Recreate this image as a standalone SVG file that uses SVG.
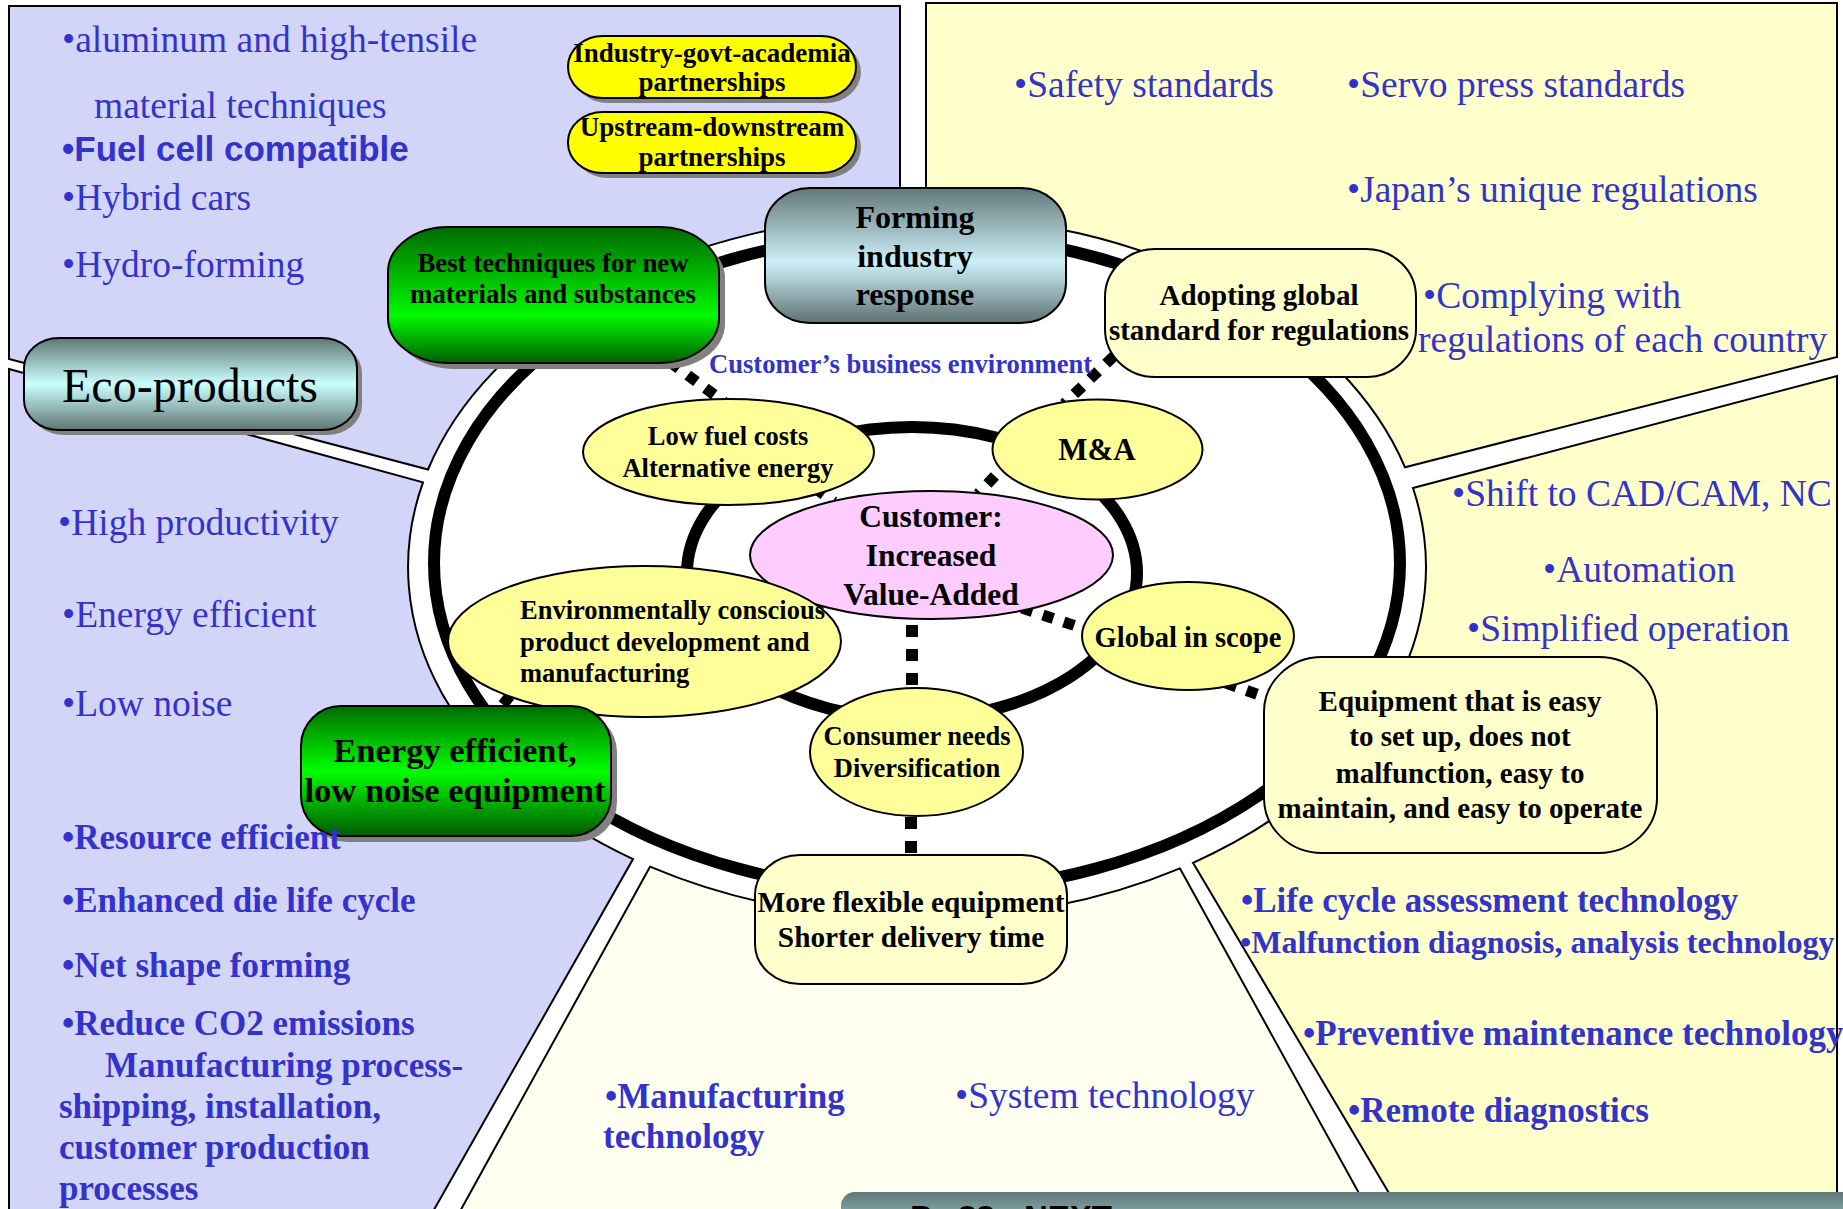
<svg xmlns="http://www.w3.org/2000/svg" width="1843" height="1209" viewBox="0 0 1843 1209">
  <defs>
    <style>
      .panel { stroke: #000; stroke-width: 2; }
      .lav { fill: #d3d5f8; }
      .yel { fill: #ffffcc; }
      .ivory { fill: #fffff0; }
      .ring { fill: none; stroke: #000; stroke-width: 12; }
      .dots { fill: none; stroke: #000; stroke-width: 11; stroke-dasharray: 11 11; }
      .oval { fill: #ffff99; stroke: #000; stroke-width: 2; }
      .box { fill: #ffffcc; stroke: #000; stroke-width: 2; }
      .pill { fill: #ffff00; stroke: #000; stroke-width: 2; }
      .shadow { fill: #808080; }
      .lbl { font-family: 'Liberation Serif', 'Times New Roman', serif; font-weight: bold; fill: #000; text-anchor: middle; }
      .lbl-left { font-family: 'Liberation Serif', 'Times New Roman', serif; font-weight: bold; fill: #000; }
      .blue { font-family: 'Liberation Serif', 'Times New Roman', serif; fill: #3333cc; font-size: 37.5px; }
      .blueb { font-family: 'Liberation Serif', 'Times New Roman', serif; fill: #3333cc; font-size: 35px; font-weight: bold; }
      .nav { font-family: 'Liberation Sans', Arial, sans-serif; font-weight: bold; font-size: 33px; fill: #000; }
    </style>
    <linearGradient id="gTeal" x1="0" y1="0" x2="0" y2="1">
      <stop offset="0" stop-color="#5f7676"/>
      <stop offset="0.5" stop-color="#ccffff"/>
      <stop offset="1" stop-color="#5f7474"/>
    </linearGradient>
    <linearGradient id="gSteel" x1="0" y1="0" x2="0" y2="1">
      <stop offset="0" stop-color="#627878"/>
      <stop offset="0.55" stop-color="#cdeff9"/>
      <stop offset="1" stop-color="#5e7272"/>
    </linearGradient>
    <linearGradient id="gGreenA" x1="0" y1="0" x2="0" y2="1">
      <stop offset="0" stop-color="#006a00"/>
      <stop offset="0.65" stop-color="#00fa00"/>
      <stop offset="1" stop-color="#005e00"/>
    </linearGradient>
    <linearGradient id="gGreenB" x1="0" y1="0" x2="0" y2="1">
      <stop offset="0" stop-color="#006c00"/>
      <stop offset="0.5" stop-color="#00ff00"/>
      <stop offset="1" stop-color="#005a00"/>
    </linearGradient>
    <linearGradient id="gBar" x1="0" y1="0" x2="0" y2="1">
      <stop offset="0" stop-color="#5f7677"/>
      <stop offset="1" stop-color="#b4e4e8"/>
    </linearGradient>
  </defs>

  <rect width="1843" height="1209" fill="#fff"/>

  <!-- outer panels around the central ring -->
  <g id="panels">
    <path class="panel lav" d="M 9 6 L 900 6 L 900 215.2 A 509 352 0 0 0 428 469.5 L 9 359 Z"/>
    <path class="panel yel" d="M 926 3 L 1837 3 L 1837 357 L 1405 467.3 A 509 352 0 0 0 926 215 Z"/>
    <path class="panel yel" d="M 1413 488 L 1837 376 L 1837 1215 L 1402 1215 L 1193 862.8 A 509 352 0 0 0 1413 488 Z"/>
    <path class="panel ivory" d="M 650 866.7 A 509 352 0 0 0 1180 868.4 L 1371 1215 L 458 1215 Z"/>
    <path class="panel lav" d="M 9 369 L 423 482.4 A 509 352 0 0 0 633 859.1 L 431 1215 L 9 1215 Z"/>
  </g>

  <!-- the two thick rings -->
  <g id="rings">
    <ellipse class="ring" cx="917" cy="563" rx="483" ry="329"/>
    <ellipse class="ring" cx="912" cy="573" rx="225" ry="146"/>
  </g>

  <!-- dotted connectors -->
  <g id="connectors">
    <line class="dots" x1="670" y1="362" x2="724" y2="402"/>
    <line class="dots" x1="1114" y1="356" x2="1064" y2="404"/>
    <line class="dots" x1="1010" y1="460" x2="978" y2="494"/>
    <line class="dots" x1="815" y1="488" x2="834" y2="502"/>
    <line class="dots" x1="912" y1="625" x2="912" y2="690" style="stroke-width:12;stroke-dasharray:12 12"/>
    <line class="dots" x1="1022" y1="608" x2="1085" y2="629"/>
    <line class="dots" x1="911" y1="817" x2="911" y2="856" style="stroke-width:12;stroke-dasharray:12 12"/>
    <line class="dots" x1="1226" y1="683" x2="1270" y2="699"/>
    <line class="dots" x1="502" y1="697" x2="516" y2="708"/>
  </g>

  <!-- nodes -->
  <g id="node-partner-1">
    <rect class="shadow" x="573" y="41" width="288" height="62" rx="35" ry="31"/>
    <rect class="pill" x="568" y="36" width="288" height="62" rx="35" ry="31"/>
    <text class="lbl" x="712" y="62" font-size="27">Industry-govt-academia</text>
    <text class="lbl" x="712" y="91" font-size="27">partnerships</text>
  </g>
  <g id="node-partner-2">
    <rect class="shadow" x="573" y="117" width="288" height="61" rx="35" ry="30"/>
    <rect class="pill" x="568" y="112" width="288" height="61" rx="35" ry="30"/>
    <text class="lbl" x="712" y="136" font-size="27">Upstream-downstream</text>
    <text class="lbl" x="712" y="166" font-size="27">partnerships</text>
  </g>
  <g id="node-best-techniques">
    <rect class="shadow" x="394" y="233" width="331" height="136" rx="60" ry="45"/>
    <rect x="388" y="227" width="331" height="136" rx="60" ry="45" fill="url(#gGreenA)" stroke="#000" stroke-width="2"/>
    <text class="lbl" x="553" y="272" font-size="26.8">Best techniques for new</text>
    <text class="lbl" x="553" y="303" font-size="26.8">materials and substances</text>
  </g>
  <g id="node-forming">
    <rect x="765" y="188" width="301" height="135" rx="45" ry="40" fill="url(#gSteel)" stroke="#000" stroke-width="2"/>
    <text class="lbl" x="915" y="228" font-size="32">Forming</text>
    <text class="lbl" x="915" y="267" font-size="32">industry</text>
    <text class="lbl" x="915" y="305" font-size="32">response</text>
  </g>
  <g id="node-global-standard">
    <rect class="box" x="1105" y="249" width="311" height="128" rx="50" ry="48"/>
    <text class="lbl" x="1259" y="305" font-size="29">Adopting global</text>
    <text class="lbl" x="1259" y="340" font-size="29">standard for regulations</text>
  </g>
  <g id="node-eco-products">
    <rect class="shadow" x="29" y="343" width="333" height="92" rx="35" ry="30"/>
    <rect x="24" y="338" width="333" height="92" rx="35" ry="30" fill="url(#gTeal)" stroke="#000" stroke-width="2"/>
    <text x="190" y="402" font-family="'Liberation Serif', 'Times New Roman', serif" font-size="48" text-anchor="middle" fill="#000">Eco-products</text>
  </g>
  <g id="node-customer">
    <ellipse cx="931.5" cy="555" rx="181.5" ry="64" fill="#ffccff" stroke="#000" stroke-width="2"/>
    <text class="lbl" x="931" y="527" font-size="31.5">Customer:</text>
    <text class="lbl" x="931" y="566" font-size="31.5">Increased</text>
    <text class="lbl" x="931" y="605" font-size="31.5">Value-Added</text>
  </g>
  <g id="node-low-fuel">
    <ellipse class="oval" cx="728.5" cy="452" rx="145.5" ry="53"/>
    <text class="lbl" x="728" y="445" font-size="26.5">Low fuel costs</text>
    <text class="lbl" x="728" y="477" font-size="26.5">Alternative energy</text>
  </g>
  <g id="node-ma">
    <ellipse class="oval" cx="1097.5" cy="449.5" rx="105" ry="50"/>
    <text class="lbl" x="1097" y="460" font-size="31">M&amp;A</text>
  </g>
  <g id="node-env-conscious">
    <ellipse class="oval" cx="644.5" cy="641.5" rx="196.5" ry="75.5"/>
    <text class="lbl-left" x="520" y="619" font-size="26.5">Environmentally conscious</text>
    <text class="lbl-left" x="520" y="651" font-size="26.5">product development and</text>
    <text class="lbl-left" x="520" y="682" font-size="26.5">manufacturing</text>
  </g>
  <g id="node-global-scope">
    <ellipse class="oval" cx="1188" cy="636" rx="106" ry="54"/>
    <text class="lbl" x="1188" y="647" font-size="28.5">Global in scope</text>
  </g>
  <g id="node-consumer-needs">
    <ellipse class="oval" cx="916.5" cy="752" rx="106.5" ry="64"/>
    <text class="lbl" x="917" y="745" font-size="26.5">Consumer needs</text>
    <text class="lbl" x="917" y="777" font-size="26.5">Diversification</text>
  </g>
  <g id="node-energy-equipment">
    <rect class="shadow" x="307" y="712" width="310" height="130" rx="40" ry="40"/>
    <rect x="301" y="706" width="310" height="130" rx="40" ry="40" fill="url(#gGreenB)" stroke="#000" stroke-width="2"/>
    <text class="lbl" x="455" y="762" font-size="34.5">Energy efficient,</text>
    <text class="lbl" x="455" y="802" font-size="34.5">low noise equipment</text>
  </g>
  <g id="node-easy-equipment">
    <rect class="box" x="1264" y="657" width="393" height="196" rx="58" ry="55"/>
    <text class="lbl" x="1460" y="711" font-size="29">Equipment that is easy</text>
    <text class="lbl" x="1460" y="746" font-size="29">to set up, does not</text>
    <text class="lbl" x="1460" y="783" font-size="29">malfunction, easy to</text>
    <text class="lbl" x="1460" y="818" font-size="29">maintain, and easy to operate</text>
  </g>
  <g id="node-flexible">
    <rect class="box" x="755" y="855" width="312" height="129" rx="45" ry="40"/>
    <text class="lbl" x="911" y="912" font-size="29.3">More flexible equipment</text>
    <text class="lbl" x="911" y="947" font-size="29.3">Shorter delivery time</text>
  </g>

  <!-- ring caption -->
  <text x="709" y="373" font-family="'Liberation Serif', 'Times New Roman', serif" font-weight="bold" font-size="26.6" fill="#3333cc">Customer’s business environment</text>

  <!-- panel bullet lists -->
  <g id="list-materials">
    <text class="blue" x="62" y="52">•aluminum and high-tensile</text>
    <text class="blue" x="94" y="118">material techniques</text>
    <text x="62" y="161" font-family="'Liberation Sans', Arial, sans-serif" font-weight="bold" font-size="35" fill="#3333cc">•Fuel cell compatible</text>
    <text class="blue" x="62" y="210">•Hybrid cars</text>
    <text class="blue" x="62" y="277">•Hydro-forming</text>
  </g>
  <g id="list-standards">
    <text class="blue" x="1014" y="97">•Safety standards</text>
    <text class="blue" x="1347" y="97">•Servo press standards</text>
    <text class="blue" x="1347" y="202">•Japan’s unique regulations</text>
    <text class="blue" x="1423" y="308">•Complying with</text>
    <text class="blue" x="1418" y="352">regulations of each country</text>
  </g>
  <g id="list-operation">
    <text class="blue" x="1452" y="506">•Shift to CAD/CAM, NC</text>
    <text class="blue" x="1543" y="582">•Automation</text>
    <text class="blue" x="1467" y="641">•Simplified operation</text>
    <text class="blueb" x="1241" y="912">•Life cycle assessment technology</text>
    <text class="blueb" x="1240" y="953" style="font-size:32px">•Malfunction diagnosis, analysis technology</text>
    <text class="blueb" x="1303" y="1045">•Preventive maintenance technology</text>
    <text class="blueb" x="1348" y="1122">•Remote diagnostics</text>
  </g>
  <g id="list-technology">
    <text class="blueb" x="605" y="1108">•Manufacturing</text>
    <text class="blueb" x="603" y="1148">technology</text>
    <text class="blue" x="955" y="1108">•System technology</text>
  </g>
  <g id="list-eco">
    <text class="blue" x="58" y="535">•High productivity</text>
    <text class="blue" x="62" y="627">•Energy efficient</text>
    <text class="blue" x="62" y="716">•Low noise</text>
    <text class="blueb" x="62" y="849">•Resource efficient</text>
    <text class="blueb" x="62" y="912">•Enhanced die life cycle</text>
    <text class="blueb" x="62" y="977">•Net shape forming</text>
    <text class="blueb" x="62" y="1035">•Reduce CO2 emissions</text>
    <text class="blueb" x="105" y="1077">Manufacturing process-</text>
    <text class="blueb" x="59" y="1118">shipping, installation,</text>
    <text class="blueb" x="59" y="1159">customer production</text>
    <text class="blueb" x="59" y="1200">processes</text>
  </g>

  <!-- navigation bar running off the bottom edge -->
  <g id="nav-bar">
    <rect x="841" y="1192" width="1030" height="50" rx="14" fill="url(#gBar)"/>
    <text class="nav" x="910" y="1229">P.</text>
    <text class="nav" x="958" y="1229">88</text>
    <text class="nav" x="1024" y="1229">NEXT</text>
  </g>
</svg>
